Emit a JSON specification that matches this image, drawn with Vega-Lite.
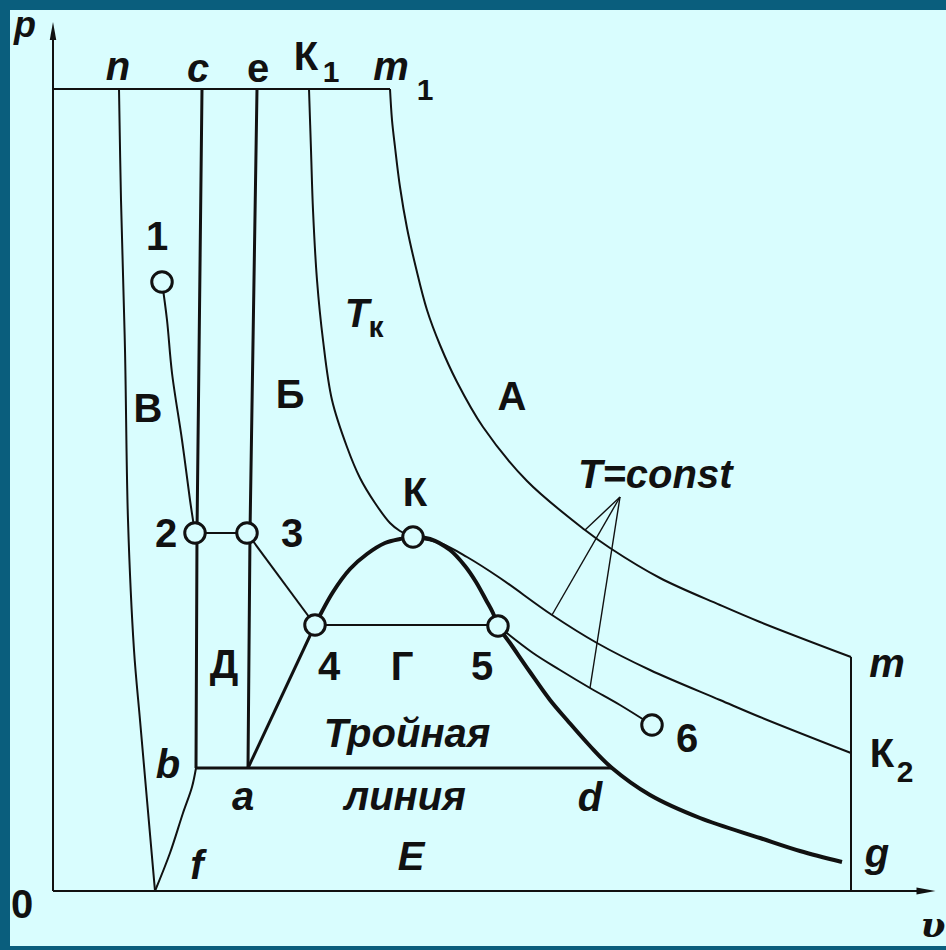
{
  "$schema": "https://vega.github.io/schema/vega-lite/v6.json",
  "width": 946,
  "height": 950,
  "padding": 0,
  "autosize": {"type": "none"},
  "background": "#0a5e7d",
  "config": {"view": {"stroke": null}},
  "datasets": {
    "bg": [{"v": -43, "v2": 893, "p": 881, "p2": -55}],
    "lines": [
      {"s": "ax", "i": 0, "v": 0, "p": 0}, {"s": "ax", "i": 1, "v": 873, "p": 0},
      {"s": "ay", "i": 0, "v": 0, "p": 0}, {"s": "ay", "i": 1, "v": 0, "p": 860},
      {"s": "top", "i": 0, "v": 0, "p": 802}, {"s": "top", "i": 1, "v": 337, "p": 802},
      {"s": "s23", "i": 0, "v": 142, "p": 358}, {"s": "s23", "i": 1, "v": 194, "p": 358},
      {"s": "s34", "i": 0, "v": 194, "p": 358}, {"s": "s34", "i": 1, "v": 262, "p": 266},
      {"s": "s45", "i": 0, "v": 262, "p": 266}, {"s": "s45", "i": 1, "v": 445, "p": 266},
      {"s": "mg", "i": 0, "v": 798, "p": 234}, {"s": "mg", "i": 1, "v": 798, "p": 0},

      {"s": "n", "i": 0, "v": 66, "p": 802}, {"s": "n", "i": 1, "v": 68, "p": 691}, {"s": "n", "i": 2, "v": 72, "p": 541}, {"s": "n", "i": 3, "v": 75, "p": 371}, {"s": "n", "i": 4, "v": 81, "p": 241}, {"s": "n", "i": 5, "v": 87, "p": 171}, {"s": "n", "i": 6, "v": 94, "p": 91}, {"s": "n", "i": 7, "v": 102, "p": 0},
      {"s": "f", "i": 0, "v": 102, "p": 0}, {"s": "f", "i": 1, "v": 117, "p": 38}, {"s": "f", "i": 2, "v": 130, "p": 78}, {"s": "f", "i": 3, "v": 139, "p": 104}, {"s": "f", "i": 4, "v": 143, "p": 123},
      {"s": "c12", "i": 0, "v": 109, "p": 609}, {"s": "c12", "i": 1, "v": 114, "p": 571}, {"s": "c12", "i": 2, "v": 119, "p": 518}, {"s": "c12", "i": 3, "v": 129, "p": 451}, {"s": "c12", "i": 4, "v": 137, "p": 391}, {"s": "c12", "i": 5, "v": 142, "p": 358},
      {"s": "tk", "i": 0, "v": 256, "p": 802}, {"s": "tk", "i": 1, "v": 258, "p": 741}, {"s": "tk", "i": 2, "v": 260, "p": 681}, {"s": "tk", "i": 3, "v": 264, "p": 611}, {"s": "tk", "i": 4, "v": 270, "p": 551}, {"s": "tk", "i": 5, "v": 279, "p": 491}, {"s": "tk", "i": 6, "v": 294, "p": 444}, {"s": "tk", "i": 7, "v": 307, "p": 413}, {"s": "tk", "i": 8, "v": 322, "p": 388}, {"s": "tk", "i": 9, "v": 337, "p": 368}, {"s": "tk", "i": 10, "v": 347, "p": 360}, {"s": "tk", "i": 11, "v": 360, "p": 354}, {"s": "tk", "i": 12, "v": 387, "p": 348}, {"s": "tk", "i": 13, "v": 414, "p": 334}, {"s": "tk", "i": 14, "v": 447, "p": 313}, {"s": "tk", "i": 15, "v": 499, "p": 276}, {"s": "tk", "i": 16, "v": 544, "p": 248}, {"s": "tk", "i": 17, "v": 597, "p": 221}, {"s": "tk", "i": 18, "v": 667, "p": 191}, {"s": "tk", "i": 19, "v": 707, "p": 174}, {"s": "tk", "i": 20, "v": 798, "p": 138},
      {"s": "A", "i": 0, "v": 337, "p": 802}, {"s": "A", "i": 1, "v": 339, "p": 771}, {"s": "A", "i": 2, "v": 342, "p": 744}, {"s": "A", "i": 3, "v": 347, "p": 704}, {"s": "A", "i": 4, "v": 354, "p": 663}, {"s": "A", "i": 5, "v": 363, "p": 623}, {"s": "A", "i": 6, "v": 374, "p": 581}, {"s": "A", "i": 7, "v": 387, "p": 546}, {"s": "A", "i": 8, "v": 404, "p": 509}, {"s": "A", "i": 9, "v": 430, "p": 464}, {"s": "A", "i": 10, "v": 474, "p": 410}, {"s": "A", "i": 11, "v": 532, "p": 361}, {"s": "A", "i": 12, "v": 557, "p": 343}, {"s": "A", "i": 13, "v": 607, "p": 313}, {"s": "A", "i": 14, "v": 667, "p": 286}, {"s": "A", "i": 15, "v": 707, "p": 269}, {"s": "A", "i": 16, "v": 798, "p": 234},
      {"s": "c56", "i": 0, "v": 445, "p": 265}, {"s": "c56", "i": 1, "v": 480, "p": 238}, {"s": "c56", "i": 2, "v": 507, "p": 221}, {"s": "c56", "i": 3, "v": 537, "p": 203}, {"s": "c56", "i": 4, "v": 567, "p": 186}, {"s": "c56", "i": 5, "v": 599, "p": 166},

      {"s": "c", "i": 0, "v": 143, "p": 123}, {"s": "c", "i": 1, "v": 144, "p": 358}, {"s": "c", "i": 2, "v": 149, "p": 802},
      {"s": "e", "i": 0, "v": 195, "p": 123}, {"s": "e", "i": 1, "v": 197, "p": 358}, {"s": "e", "i": 2, "v": 204, "p": 802},
      {"s": "tri", "i": 0, "v": 143, "p": 123}, {"s": "tri", "i": 1, "v": 559, "p": 123},
      {"s": "a4", "i": 0, "v": 195, "p": 123}, {"s": "a4", "i": 1, "v": 262, "p": 266},

      {"s": "p1", "i": 0, "v": 567, "p": 394}, {"s": "p1", "i": 1, "v": 532, "p": 361},
      {"s": "p2", "i": 0, "v": 567, "p": 394}, {"s": "p2", "i": 1, "v": 499, "p": 276},
      {"s": "p3", "i": 0, "v": 567, "p": 394}, {"s": "p3", "i": 1, "v": 537, "p": 203},

      {"s": "bin", "i": 0, "v": 262, "p": 266}, {"s": "bin", "i": 1, "v": 280, "p": 299}, {"s": "bin", "i": 2, "v": 297, "p": 322}, {"s": "bin", "i": 3, "v": 314, "p": 337}, {"s": "bin", "i": 4, "v": 332, "p": 348}, {"s": "bin", "i": 5, "v": 347, "p": 352}, {"s": "bin", "i": 6, "v": 360, "p": 354}, {"s": "bin", "i": 7, "v": 377, "p": 352}, {"s": "bin", "i": 8, "v": 397, "p": 341}, {"s": "bin", "i": 9, "v": 412, "p": 325}, {"s": "bin", "i": 10, "v": 423, "p": 309}, {"s": "bin", "i": 11, "v": 433, "p": 291}, {"s": "bin", "i": 12, "v": 440, "p": 278}, {"s": "bin", "i": 13, "v": 445, "p": 265}, {"s": "bin", "i": 14, "v": 457, "p": 248}, {"s": "bin", "i": 15, "v": 477, "p": 219}, {"s": "bin", "i": 16, "v": 497, "p": 191}, {"s": "bin", "i": 17, "v": 514, "p": 171}, {"s": "bin", "i": 18, "v": 537, "p": 145}, {"s": "bin", "i": 19, "v": 559, "p": 123}, {"s": "bin", "i": 20, "v": 597, "p": 96}, {"s": "bin", "i": 21, "v": 647, "p": 73}, {"s": "bin", "i": 22, "v": 707, "p": 53}, {"s": "bin", "i": 23, "v": 747, "p": 40}, {"s": "bin", "i": 24, "v": 789, "p": 29}
    ],
    "circles": [
      {"v": 109, "p": 609}, {"v": 142, "p": 358}, {"v": 194, "p": 358}, {"v": 262, "p": 266},
      {"v": 360, "p": 354}, {"v": 445, "p": 265}, {"v": 599, "p": 166}
    ],
    "arrowUp": [{"v": 0, "p": 860}],
    "arrowRight": [{"v": 873, "p": 0}],
    "textUp": [
      {"t": "1", "v": 104, "p": 641}, {"t": "В", "v": 95, "p": 469}, {"t": "Б", "v": 237, "p": 483},
      {"t": "А", "v": 459, "p": 481}, {"t": "К", "v": 362, "p": 385}, {"t": "2", "v": 113, "p": 344},
      {"t": "3", "v": 239, "p": 344}, {"t": "Д", "v": 171, "p": 213}, {"t": "4", "v": 276, "p": 211},
      {"t": "Г", "v": 349, "p": 211}, {"t": "5", "v": 429, "p": 211}, {"t": "6", "v": 634, "p": 139},
      {"t": "К", "v": 253, "p": 821}, {"t": "К", "v": 829, "p": 124}, {"t": "0", "v": -31, "p": -27},
      {"t": "e", "v": 205, "p": 809}
    ],
    "textIt": [
      {"t": "n", "v": 65, "p": 811}, {"t": "c", "v": 145, "p": 809},
      {"t": "m", "v": 338, "p": 811}, {"t": "T", "v": 304, "p": 564}, {"t": "Тройная", "v": 354, "p": 144},
      {"t": "b", "v": 115, "p": 113}, {"t": "a", "v": 190, "p": 81}, {"t": "линия", "v": 352, "p": 81},
      {"t": "d", "v": 537, "p": 80}, {"t": "m", "v": 834, "p": 214}, {"t": "g", "v": 824, "p": 24},
      {"t": "f", "v": 144, "p": 12}, {"t": "E", "v": 358, "p": 21}
    ],
    "textP": [{"t": "p", "v": -28, "p": 854}],
    "textSub": [
      {"t": "1", "v": 278, "p": 809}, {"t": "1", "v": 372, "p": 791}, {"t": "2", "v": 852, "p": 109},
      {"t": "к", "v": 323, "p": 554}
    ],
    "textLeft": [{"t": "T=const", "v": 525, "p": 403}],
    "textV": [{"t": "υ", "v": 880, "p": -46}]
  },
  "encoding": {
    "x": {"field": "v", "type": "quantitative", "scale": {"domain": [-53, 893], "nice": false, "zero": false}, "axis": null},
    "y": {"field": "p", "type": "quantitative", "scale": {"domain": [-59, 891], "nice": false, "zero": false}, "axis": null}
  },
  "layer": [
    {
      "data": {"name": "bg"},
      "mark": {"type": "rect", "fill": "#d9fdfe"},
      "encoding": {"x2": {"field": "v2"}, "y2": {"field": "p2"}}
    },
    {
      "data": {"name": "lines"},
      "transform": [{"filter": {"field": "s", "oneOf": ["ax", "ay", "top", "s23", "s34", "s45", "mg"]}}],
      "mark": {"type": "line", "stroke": "#111111", "strokeWidth": 2, "interpolate": "linear"},
      "encoding": {"detail": {"field": "s"}, "order": {"field": "i", "type": "quantitative"}}
    },
    {
      "data": {"name": "lines"},
      "transform": [{"filter": {"field": "s", "oneOf": ["n", "f", "c12", "tk", "A", "c56"]}}],
      "mark": {"type": "line", "stroke": "#111111", "strokeWidth": 2, "interpolate": "catmull-rom"},
      "encoding": {"detail": {"field": "s"}, "order": {"field": "i", "type": "quantitative"}}
    },
    {
      "data": {"name": "lines"},
      "transform": [{"filter": {"field": "s", "oneOf": ["c", "e", "tri", "a4"]}}],
      "mark": {"type": "line", "stroke": "#111111", "strokeWidth": 3, "interpolate": "linear"},
      "encoding": {"detail": {"field": "s"}, "order": {"field": "i", "type": "quantitative"}}
    },
    {
      "data": {"name": "lines"},
      "transform": [{"filter": {"field": "s", "oneOf": ["p1", "p2", "p3"]}}],
      "mark": {"type": "line", "stroke": "#111111", "strokeWidth": 1.4, "interpolate": "linear"},
      "encoding": {"detail": {"field": "s"}, "order": {"field": "i", "type": "quantitative"}}
    },
    {
      "data": {"name": "lines"},
      "transform": [{"filter": {"field": "s", "equal": "bin"}}],
      "mark": {"type": "line", "stroke": "#111111", "strokeWidth": 4, "interpolate": "catmull-rom"},
      "encoding": {"order": {"field": "i", "type": "quantitative"}}
    },
    {
      "data": {"name": "circles"},
      "mark": {"type": "point", "shape": "circle", "filled": true, "fill": "#d9fdfe", "stroke": "#111111", "strokeWidth": 3, "size": 420, "opacity": 1}
    },
    {
      "data": {"name": "arrowUp"},
      "mark": {"type": "point", "shape": "M0,-1L0.36,1L-0.36,1Z", "filled": true, "fill": "#111111", "strokeWidth": 0, "size": 324, "opacity": 1}
    },
    {
      "data": {"name": "arrowRight"},
      "mark": {"type": "point", "shape": "M1,0L-1,-0.38L-1,0.38Z", "filled": true, "fill": "#111111", "strokeWidth": 0, "size": 361, "opacity": 1}
    },
    {
      "data": {"name": "textUp"},
      "mark": {"type": "text", "font": "Liberation Sans", "fontWeight": "bold", "fontSize": 40, "align": "center", "baseline": "alphabetic", "color": "#111111"},
      "encoding": {"text": {"field": "t"}}
    },
    {
      "data": {"name": "textIt"},
      "mark": {"type": "text", "font": "Liberation Sans", "fontWeight": "bold", "fontStyle": "italic", "fontSize": 40, "align": "center", "baseline": "alphabetic", "color": "#111111"},
      "encoding": {"text": {"field": "t"}}
    },
    {
      "data": {"name": "textP"},
      "mark": {"type": "text", "font": "Liberation Sans", "fontWeight": "bold", "fontStyle": "italic", "fontSize": 36, "align": "center", "baseline": "alphabetic", "color": "#111111"},
      "encoding": {"text": {"field": "t"}}
    },
    {
      "data": {"name": "textSub"},
      "mark": {"type": "text", "font": "Liberation Sans", "fontWeight": "bold", "fontSize": 30, "align": "center", "baseline": "alphabetic", "color": "#111111"},
      "encoding": {"text": {"field": "t"}}
    },
    {
      "data": {"name": "textLeft"},
      "mark": {"type": "text", "font": "Liberation Sans", "fontWeight": "bold", "fontStyle": "italic", "fontSize": 40, "align": "left", "baseline": "alphabetic", "color": "#111111"},
      "encoding": {"text": {"field": "t"}}
    },
    {
      "data": {"name": "textV"},
      "mark": {"type": "text", "font": "DejaVu Serif", "fontWeight": "bold", "fontStyle": "italic", "fontSize": 36, "align": "center", "baseline": "alphabetic", "color": "#111111"},
      "encoding": {"text": {"field": "t"}}
    }
  ]
}
